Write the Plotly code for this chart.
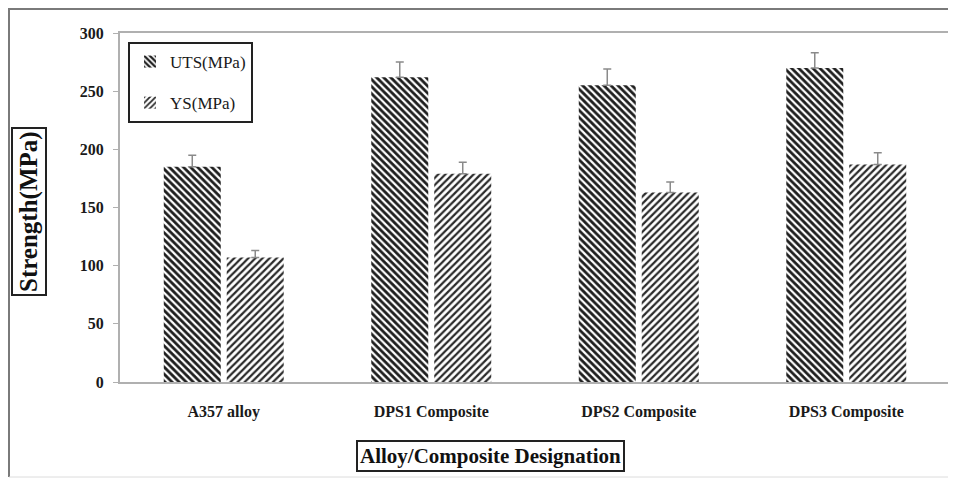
import plotly.graph_objects as go

categories = ["A357 alloy", "DPS1 Composite", "DPS2 Composite", "DPS3 Composite"]
uts_values = [185, 262, 255, 270]
uts_errors = [10, 13, 14, 13]
ys_values = [107, 179, 163, 187]
ys_errors = [6, 10, 9, 10]

# page has an 8px body margin; figure sized to fit the 956x484 window
OFF = 8
W, H = 956 - OFF, 484 - OFF
# plot area in window coordinates: x 120..950, y 33..382
L, R, T, B = 120 - OFF, W - (950 - OFF), 33 - OFF, H - (382 - OFF)
pw, ph = W - L - R, H - T - B

def px(x):
    return (x - OFF - L) / pw

def py(y):
    return (H - B - (y - OFF)) / ph

serif = "Liberation Serif"

fig = go.Figure()
fig.add_trace(go.Bar(
    x=categories, y=uts_values, name="UTS(MPa)", legendgroup="a",
    marker=dict(color="white", line=dict(width=0),
                pattern=dict(shape="\\", fgcolor="#1e1e1e", bgcolor="white",
                             size=5, solidity=0.55, fillmode="replace")),
    error_y=dict(type="data", array=uts_errors, arrayminus=[0] * 4, symmetric=False,
                 color="#8a8a8a", thickness=1.5, width=4),
))
fig.add_trace(go.Bar(
    x=categories, y=ys_values, name="YS(MPa)", legendgroup="b",
    marker=dict(color="white", line=dict(width=0),
                pattern=dict(shape="/", fgcolor="#2a2a2a", bgcolor="white",
                             size=5, solidity=0.45, fillmode="replace")),
    error_y=dict(type="data", array=ys_errors, arrayminus=[0] * 4, symmetric=False,
                 color="#8a8a8a", thickness=1.5, width=4),
))

tick_text = ["<b>%s</b>" % c for c in categories]

fig.update_layout(
    width=W, height=H,
    margin=dict(l=L, r=R, t=T, b=B, autoexpand=False),
    paper_bgcolor="white", plot_bgcolor="white",
    barmode="group", bargap=0.393, bargroupgap=0.095,
    font=dict(family=serif, color="#1a1a1a"),
    showlegend=True,
    legend=dict(x=px(128), y=py(42), xanchor="left", yanchor="top",
                bgcolor="white", bordercolor="#222", borderwidth=2,
                font=dict(family=serif, size=17, color="#1a1a1a"),
                traceorder="grouped", tracegroupgap=16,
                itemwidth=30),
    xaxis=dict(showline=True, linecolor="#b0b0b0", linewidth=2, mirror=True,
               ticks="", showgrid=False, ticklabelstandoff=14,
               tickmode="array", tickvals=categories, ticktext=tick_text,
               tickfont=dict(family=serif, size=16, color="#1a1a1a")),
    yaxis=dict(range=[0, 300], dtick=50, showline=True, linecolor="#b0b0b0",
               linewidth=2, mirror=True, ticks="outside", ticklen=5, tickcolor="#b0b0b0",
               showgrid=False, zeroline=False, ticklabelstandoff=6,
               tickprefix="<b>", ticksuffix="</b>",
               tickfont=dict(family=serif, size=16, color="#1a1a1a")),
)

# outer frame (image border)
fig.add_shape(type="line", xref="paper", yref="paper",
              x0=px(9), x1=px(9), y0=py(477), y1=py(8),
              line=dict(color="#7a7a7a", width=2), layer="below")
fig.add_shape(type="line", xref="paper", yref="paper",
              x0=px(9), x1=px(975), y0=py(9), y1=py(9),
              line=dict(color="#7a7a7a", width=2), layer="below")
fig.add_shape(type="line", xref="paper", yref="paper",
              x0=px(9), x1=px(975), y0=py(477), y1=py(477),
              line=dict(color="#dcdcdc", width=1), layer="below")

fig.add_annotation(text="<b>Strength(MPa)</b>", xref="paper", yref="paper",
                   x=px(29), y=py(212), xanchor="center", yanchor="middle",
                   textangle=-90, showarrow=False,
                   font=dict(family=serif, size=25, color="#111"),
                   bordercolor="#222", borderwidth=2, borderpad=2, bgcolor="white")
fig.add_annotation(text="<b>Alloy/Composite Designation</b>", xref="paper", yref="paper",
                   x=px(490), y=py(456), xanchor="center", yanchor="middle",
                   showarrow=False,
                   font=dict(family=serif, size=21, color="#111"),
                   bordercolor="#222", borderwidth=2, borderpad=2, bgcolor="white")

fig.write_html("out.html")
